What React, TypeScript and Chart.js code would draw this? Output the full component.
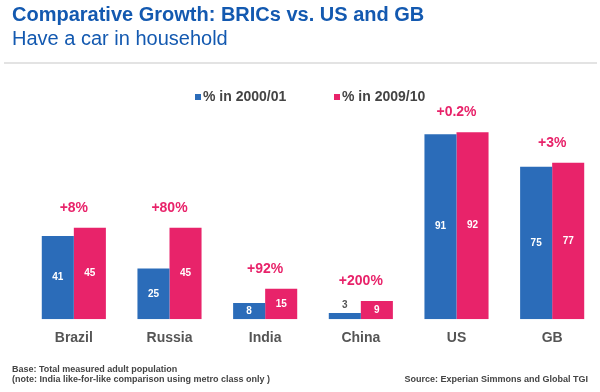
import React, { useEffect, useRef } from 'react';
import { Chart, registerables } from 'chart.js';

Chart.register(...registerables);

const categories = ['Brazil', 'Russia', 'India', 'China', 'US', 'GB'];
const values2000 = [41, 25, 8, 3, 91, 75];
const values2009 = [45, 45, 15, 9, 92, 77];
const growthLabels = ['+8%', '+80%', '+92%', '+200%', '+0.2%', '+3%'];
const seriesNames = ['% in 2000/01', '% in 2009/10'];
const titleText = 'Comparative Growth: BRICs vs. US and GB';
const subtitleText = 'Have a car in household';
const footnoteLines = [
  'Base: Total measured adult population',
  '(note: India like-for-like comparison using metro class only )',
];
const sourceText = 'Source: Experian Simmons and Global TGI';

const BLUE = '#2b6cb9';
const PINK = '#e8236a';
const TITLE_BLUE = '#1359b0';
const FONT = '"Liberation Sans", Arial, Helvetica, sans-serif';

const overlayPlugin = {
  id: 'overlay',
  afterDatasetsDraw(chart: any) {
    const ctx = chart.ctx;
    ctx.save();
    ctx.textAlign = 'center';
    ctx.textBaseline = 'middle';
    // value labels
    chart.data.datasets.forEach((ds: any, di: number) => {
      const meta = chart.getDatasetMeta(di);
      meta.data.forEach((bar: any, i: number) => {
        const v = ds.data[i];
        const h = bar.base - bar.y;
        ctx.font = `bold 10px ${FONT}`;
        if (h > 12) {
          ctx.fillStyle = '#ffffff';
          ctx.fillText(String(v), bar.x, (bar.y + bar.base) / 2);
        } else {
          ctx.fillStyle = '#555555';
          ctx.fillText(String(v), bar.x, bar.y - 8);
        }
      });
    });
    // growth labels
    const m0 = chart.getDatasetMeta(0);
    const m1 = chart.getDatasetMeta(1);
    ctx.font = `bold 14px ${FONT}`;
    ctx.fillStyle = PINK;
    growthLabels.forEach((g, i) => {
      const b0 = m0.data[i];
      const b1 = m1.data[i];
      const top = Math.min(b0.y, b1.y);
      const x = (b0.x + b1.x) / 2;
      ctx.fillText(g, x, top - 20);
    });
    ctx.restore();
  },
  afterDraw(chart: any) {
    const ctx = chart.ctx;
    ctx.save();
    // title
    ctx.textAlign = 'left';
    ctx.textBaseline = 'alphabetic';
    ctx.fillStyle = TITLE_BLUE;
    ctx.font = `bold 20px ${FONT}`;
    ctx.fillText(titleText, 12, 21);
    ctx.font = `20px ${FONT}`;
    ctx.fillText(subtitleText, 12, 45);
    // rule
    ctx.fillStyle = '#e3e3e3';
    ctx.fillRect(4, 62, 593, 2);
    // legend
    ctx.font = `bold 14px ${FONT}`;
    ctx.textBaseline = 'middle';
    const legendX = [195, 334];
    [BLUE, PINK].forEach((c, i) => {
      ctx.fillStyle = c;
      ctx.fillRect(legendX[i], 94, 6, 6);
      ctx.fillStyle = '#444444';
      ctx.fillText(seriesNames[i], legendX[i] + 8, 97.5);
    });
    // footer
    ctx.textBaseline = 'alphabetic';
    ctx.font = `bold 9px ${FONT}`;
    ctx.fillStyle = '#444444';
    ctx.fillText(footnoteLines[0], 12, 371.5);
    ctx.fillText(footnoteLines[1], 12, 381.5);
    ctx.textAlign = 'right';
    ctx.fillText(sourceText, 588, 381.5);
    ctx.restore();
  },
};

export default function App() {
  const ref = useRef<HTMLCanvasElement>(null);
  useEffect(() => {
    if (!ref.current) return;
    const chart = new Chart(ref.current, {
      type: 'bar',
      data: {
        labels: categories,
        datasets: [
          {
            label: seriesNames[0],
            data: values2000,
            backgroundColor: BLUE,
            borderWidth: 0,
            categoryPercentage: 0.67,
            barPercentage: 1.0,
          },
          {
            label: seriesNames[1],
            data: values2009,
            backgroundColor: PINK,
            borderWidth: 0,
            categoryPercentage: 0.67,
            barPercentage: 1.0,
          },
        ],
      },
      options: {
        animation: false,
        responsive: false,
        devicePixelRatio: 1,
        layout: { padding: { left: 26, right: 0, top: 116, bottom: 34 } },
        plugins: {
          legend: { display: false },
          title: { display: false },
          tooltip: { enabled: false },
        },
        scales: {
          x: {
            grid: { display: false, drawTicks: false },
            border: { display: false },
            ticks: {
              color: '#555555',
              font: { family: FONT, size: 14, weight: 'bold' },
              padding: 11,
              maxRotation: 0,
            },
          },
          y: {
            display: false,
            min: 0,
            max: 100,
          },
        },
      },
      plugins: [overlayPlugin],
    });
    return () => chart.destroy();
  }, []);
  return (
    <div style={{ position: 'absolute', left: 0, top: 0, width: 600, height: 392, background: '#fff' }}>
      <canvas ref={ref} width={600} height={392} style={{ display: 'block' }} />
    </div>
  );
}
